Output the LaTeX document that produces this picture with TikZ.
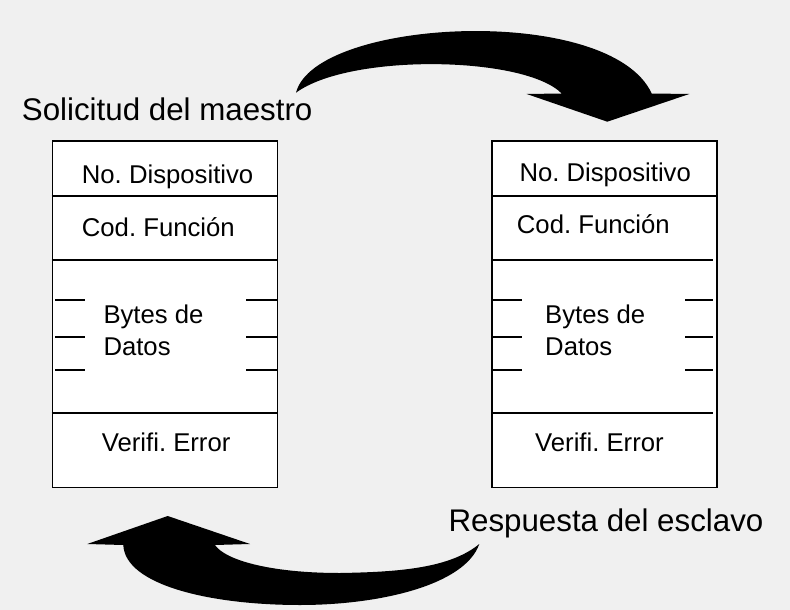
\documentclass[tikz,border=0pt]{standalone}
\usepackage{fontspec}
\setmainfont{Liberation Sans}
\definecolor{bg}{HTML}{F0F0F0}
\frenchspacing
\begin{document}
\begin{tikzpicture}[x=1pt,y=1pt,yscale=-1,
  framebox/.style={draw=black, line width=1.7pt, fill=white, minimum width=225pt, minimum height=346.7pt, inner sep=0pt, anchor=north west},
  field/.style={font=\fontsize{25.7}{30}\selectfont, anchor=base west, inner sep=0pt},
  biglabel/.style={font=\fontsize{31.3}{36}\selectfont, anchor=base west, inner sep=0pt},
  sepline/.style={line width=1.7pt},
  bigarrow/.style={fill=black}]
\fill[bg] (0,0) rectangle (790,610);
\useasboundingbox (0,0) rectangle (790,610);

% boxes
\node[framebox] (L) at (51.7,140) {};
\node[framebox] (R) at (491,140) {};

% dividers left
\draw[sepline] (51.7,196) -- (276.7,196);
\draw[sepline] (51.7,260) -- (276.7,260);
\draw[sepline] (51.7,412.7) -- (276.7,412.7);
% ticks left
\foreach \yy in {300,336.7,370}{
  \draw[sepline] (55,\yy) -- (85,\yy);
  \draw[sepline] (246,\yy) -- (276.7,\yy);
}
% dividers right
\draw[sepline] (491,196) -- (716,196);
\draw[sepline] (491,260) -- (713,260);
\draw[sepline] (491,412.7) -- (713,412.7);
\foreach \yy in {300,336.7,370}{
  \draw[sepline] (491,\yy) -- (521.7,\yy);
  \draw[sepline] (685,\yy) -- (713,\yy);
}

% left texts
\node[field] (l1) at (81.7,183.3) {No. Dispositivo};
\node[field] (l2) at (81.7,236) {Cod. Función};
\node[field] (l3) at (103.3,323.5) {Bytes de};
\node[field] (l4) at (103.3,355.7) {Datos};
\node[field] (l5) at (101.7,451.7) {Verifi. Error};
% right texts
\node[field] (r1) at (519.3,181.7) {No. Dispositivo};
\node[field] (r2) at (516.7,233.5) {Cod. Función};
\node[field] (r3) at (545,323.5) {Bytes de};
\node[field] (r4) at (545,355.7) {Datos};
\node[field] (r5) at (535,451.7) {Verifi. Error};

% labels
\node[biglabel] (sol) at (21.7,120.7) {Solicitud del maestro};
\node[biglabel] (res) at (448.3,531) {Respuesta del esclavo};

% top arrow
\fill[bigarrow] (296,92.7) .. controls (315,18) and (610,3) .. (651.7,93.5)
  -- (689.3,94) -- (607.3,121.7) -- (526.7,94) -- (561.7,93.5)
  .. controls (525,56) and (350,53) .. (296,92.7) -- cycle;

% bottom arrow
\fill[bigarrow] (479.3,544) .. controls (465,585) and (380,605) .. (300,605)
  .. controls (210,605) and (125,585) .. (123.3,545)
  -- (87.3,544) -- (167.7,516) -- (250,544) -- (215,545)
  .. controls (225,560) and (270,573) .. (340,573)
  .. controls (400,572) and (450,568) .. (479.3,544) -- cycle;
\end{tikzpicture}
\end{document}
